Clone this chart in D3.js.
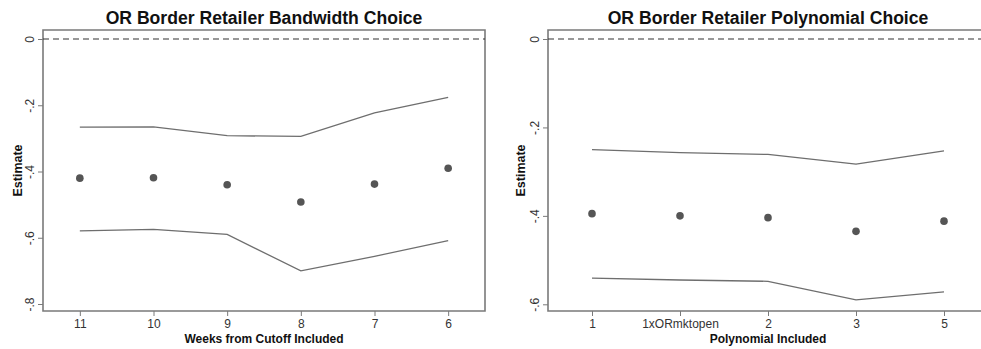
<!DOCTYPE html>
<html><head><meta charset="utf-8">
<script src="https://cdn.jsdelivr.net/npm/d3@7"></script>
<style>body{margin:0;background:#fff}svg{display:block}text{font-family:"Liberation Sans",Arial,Helvetica,sans-serif}</style>
</head><body><svg id="c" width="981" height="349"></svg>
<script>
const leftTitle = "OR Border Retailer Bandwidth Choice";
const leftXTitle = "Weeks from Cutoff Included";
const leftCats = ["11","10","9","8","7","6"];
const leftEst = [-0.420,-0.419,-0.440,-0.492,-0.438,-0.390];
const leftUpper = [-0.266,-0.265,-0.292,-0.294,-0.223,-0.176];
const leftLower = [-0.579,-0.575,-0.590,-0.700,-0.656,-0.609];
const leftYTicks = [0,-0.2,-0.4,-0.6,-0.8];
const leftYLabels = ["0","-.2","-.4","-.6","-.8"];

const rightTitle = "OR Border Retailer Polynomial Choice";
const rightXTitle = "Polynomial Included";
const rightCats = ["1","1xORmktopen","2","3","5"];
const rightEst = [-0.395,-0.400,-0.404,-0.435,-0.412];
const rightUpper = [-0.250,-0.257,-0.261,-0.283,-0.253];
const rightLower = [-0.541,-0.545,-0.548,-0.590,-0.572];
const rightYTicks = [0,-0.2,-0.4,-0.6];
const rightYLabels = ["0","-.2","-.4","-.6"];

const svg = d3.select("#c");

function panel(o){
  const g = svg.append("g");
  const x = d3.scalePoint().domain(o.cats).range([o.x0,o.x1]).padding(0.5);
  const y = d3.scaleLinear().domain([0,o.yMin]).range([39,o.yBottomTick]);
  const top=30, bot=311;
  g.append("path").attr("d",`M${o.x0},${top}H${o.x1}V${bot}H${o.x0}Z`)
    .attr("fill","none").attr("stroke","#7a7a7a").attr("stroke-width",1.6);
  g.append("line").attr("x1",o.x0).attr("x2",Math.min(o.x1,981)).attr("y1",y(0)).attr("y2",y(0))
    .attr("stroke","#333").attr("stroke-width",1.2).attr("stroke-dasharray","6,4");
  const yAx = g.append("g").attr("transform",`translate(${o.x0},0)`)
    .call(d3.axisLeft(y).tickValues(o.yTicks).tickSize(5).tickFormat((d,i)=>o.yLabels[i]));
  yAx.select(".domain").remove();
  yAx.selectAll("line").attr("stroke","#7a7a7a");
  yAx.selectAll("text").attr("x",null).attr("dy","-0.1em")
    .attr("text-anchor","middle").attr("fill","#333").style("font-size","12px")
    .attr("transform","translate(-8,0) rotate(-90)");
  const xAx = g.append("g").attr("transform",`translate(0,${bot})`)
    .call(d3.axisBottom(x).tickSize(5));
  xAx.select(".domain").remove();
  xAx.selectAll("line").attr("stroke","#7a7a7a");
  xAx.selectAll("text").attr("fill","#333").style("font-size","12px").attr("y",8);
  const line = d3.line().x((d,i)=>x(o.cats[i])).y(d=>y(d));
  [o.upper,o.lower].forEach(arr=>{
    g.append("path").attr("d",line(arr)).attr("fill","none").attr("stroke","#6e6e6e").attr("stroke-width",1.3);
  });
  g.selectAll("circle.pt").data(o.est).join("circle").attr("class","pt")
    .attr("cx",(d,i)=>x(o.cats[i])).attr("cy",d=>y(d)).attr("r",3.8).attr("fill","#555");
  g.append("text").attr("x",(o.x0+o.x1)/2).attr("y",24).attr("text-anchor","middle")
    .style("font-size","17.6px").style("font-weight","bold").attr("fill","#111").text(o.title);
  g.append("text").attr("x",(o.x0+o.x1)/2).attr("y",343).attr("text-anchor","middle")
    .style("font-size","12px").style("font-weight","bold").attr("fill","#111").text(o.xTitle);
  g.append("text").attr("transform",`translate(${o.x0-o.estOff},${(top+bot)/2}) rotate(-90)`)
    .attr("text-anchor","middle").style("font-size","12.5px").style("font-weight","bold").attr("fill","#111").text("Estimate");
}

panel({x0:43,x1:485,cats:leftCats,est:leftEst,upper:leftUpper,lower:leftLower,yMin:-0.8,yBottomTick:304,
  yTicks:leftYTicks,yLabels:leftYLabels,title:leftTitle,xTitle:leftXTitle,estOff:21.5});
panel({x0:548,x1:988,cats:rightCats,est:rightEst,upper:rightUpper,lower:rightLower,yMin:-0.6,yBottomTick:304.3,
  yTicks:rightYTicks,yLabels:rightYLabels,title:rightTitle,xTitle:rightXTitle,estOff:23.5});
</script></body></html>
